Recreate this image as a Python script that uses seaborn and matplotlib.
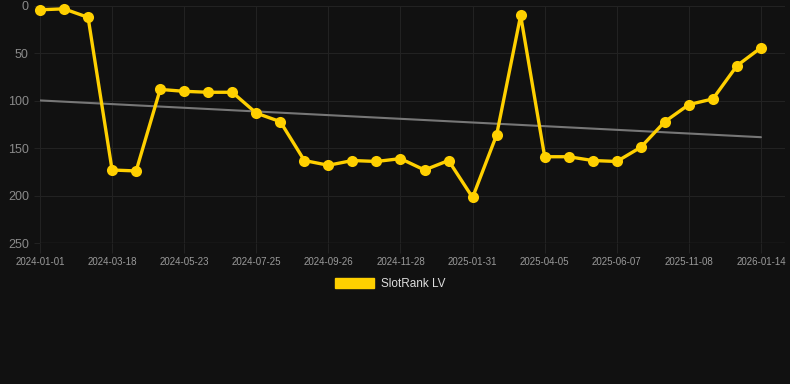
import numpy as np
import pandas as pd
import matplotlib
matplotlib.use("Agg")
import matplotlib.pyplot as plt
import seaborn as sns
from matplotlib.patches import Patch

dates = [
    "2024-01-01", "2024-01-26", "2024-02-21", "2024-03-18", "2024-04-09",
    "2024-05-01", "2024-05-23", "2024-06-13", "2024-07-04", "2024-07-25",
    "2024-08-15", "2024-09-05", "2024-09-26", "2024-10-17", "2024-11-07",
    "2024-11-28", "2024-12-19", "2025-01-09", "2025-01-31", "2025-02-21",
    "2025-03-14", "2025-04-05", "2025-04-26", "2025-05-17", "2025-06-07",
    "2025-07-28", "2025-09-18", "2025-11-08", "2025-11-30", "2025-12-22",
    "2026-01-14",
]
ranks = [4, 3, 12, 173, 174, 88, 90, 91, 91, 113,
         122, 163, 168, 163, 164, 161, 173, 163, 202, 136,
         10, 159, 159, 163, 164, 149, 122, 104, 98, 63,
         44]
series_name = "SlotRank LV"
y_ticks = [0, 50, 100, 150, 200, 250]

BG = "#111111"
GOLD = "#FFD000"
GRID = "#222222"

sns.set_style("dark", {"axes.facecolor": BG, "figure.facecolor": BG})
plt.rcParams["font.family"] = ["Liberation Sans", "DejaVu Sans"]

df = pd.DataFrame({"i": np.arange(len(ranks)), "rank": ranks, "date": dates})

fig = plt.figure(figsize=(7.9, 3.84), dpi=100, facecolor=BG)
ax = fig.add_axes([40 / 790, 141 / 384, 745 / 790, 237 / 384])
ax.set_facecolor(BG)

sns.regplot(data=df, x="i", y="rank", scatter=False, ci=None, ax=ax,
            line_kws=dict(color="#777777", lw=1.5, zorder=2))
sns.lineplot(data=df, x="i", y="rank", ax=ax, color=GOLD, lw=2.4,
             marker="o", markersize=8, markeredgecolor=GOLD,
             markeredgewidth=0, zorder=3, clip_on=False)

ax.set_xlim(0, 31)
ax.set_ylim(250, 0)
ax.set_xticks(df["i"][::3])
ax.set_xticklabels(df["date"][::3])
ax.set_yticks(y_ticks)
ax.set_xlabel("")
ax.set_ylabel("")
ax.grid(True, color=GRID, lw=0.8)
for s in ax.spines.values():
    s.set_visible(False)
ax.axhline(250, color="#2c2c2c", lw=1, zorder=1)
ax.tick_params(axis="x", colors=GRID, labelcolor="#9a9a9a", labelsize=7,
               length=7, width=0.8, pad=3, bottom=True)
ax.tick_params(axis="y", colors=GRID, labelcolor="#8a8a8a", labelsize=9,
               length=4, width=0.8, pad=4, left=True)

handle = Patch(facecolor=GOLD, edgecolor=GOLD, label=series_name)
leg = fig.legend(handles=[handle], loc="center", bbox_to_anchor=(390 / 790, 1 - 284 / 384),
                 frameon=False, handlelength=3.3, handleheight=1.0, fontsize=8.5,
                 labelcolor="#dddddd", handletextpad=0.6)

fig.savefig("out.png", dpi=100, facecolor=BG)
